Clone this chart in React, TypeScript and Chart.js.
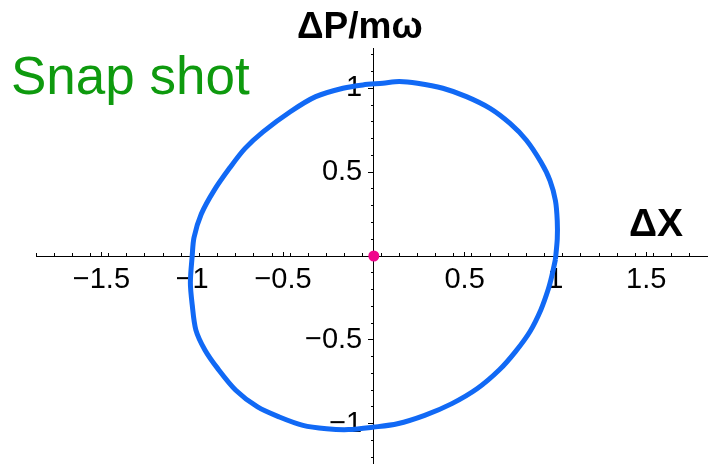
import React, { useEffect, useRef } from 'react';
import { Chart, registerables } from 'chart.js';

Chart.register(...registerables);

// Phase-space snapshot: position offset ΔX against scaled momentum offset ΔP/mω
const trajX = [
  1.0, 1.01, 1.01, 1.0, 0.97, 0.92, 0.84, 0.75, 0.64, 0.51, 0.38, 0.24, 0.14, 0.05,
  -0.06, -0.17, -0.32, -0.46, -0.61, -0.71, -0.79, -0.88, -0.95, -0.99, -1.0, -1.01,
  -1.0, -0.98, -0.93, -0.86, -0.76, -0.64, -0.52, -0.39, -0.26, -0.14, 0.0, 0.13,
  0.28, 0.43, 0.57, 0.69, 0.78, 0.86, 0.92, 0.96, 0.98, 1.0,
];
const trajP = [
  -0.02, 0.1, 0.21, 0.33, 0.45, 0.56, 0.69, 0.79, 0.88, 0.95, 1.0, 1.03, 1.04, 1.03,
  1.02, 1.0, 0.95, 0.86, 0.74, 0.64, 0.53, 0.39, 0.25, 0.11, 0.0, -0.16,
  -0.29, -0.44, -0.56, -0.67, -0.8, -0.9, -0.96, -1.01, -1.03, -1.035, -1.02, -1.0,
  -0.95, -0.88, -0.79, -0.68, -0.57, -0.45, -0.32, -0.2, -0.12, -0.02,
];

// Centre of the distribution
const centreX = [0];
const centreP = [0];

const xMajorTicks = [-1.5, -1, -0.5, 0.5, 1, 1.5];
const xTickLabels = ['\u22121.5', '\u22121', '\u22120.5', '0.5', '1', '1.5'];
const yMajorTicks = [-1, -0.5, 0.5, 1];
const yTickLabels = ['\u22121', '\u22120.5', '0.5', '1'];

const X_MIN = -1.86;
const X_MAX = 1.84;
const Y_MIN = -1.24;
const Y_MAX = 1.24;

const FONT = '"Liberation Sans", Arial, sans-serif';
// gap between the vertical axis and its labels
const Y_LABEL_GAP = '\u2009\u2009';

const axisLabels = {
  id: 'axisLabels',
  afterDraw(chart: Chart) {
    const ctx = chart.ctx;
    ctx.save();
    ctx.textBaseline = 'alphabetic';
    ctx.textAlign = 'left';

    ctx.fillStyle = '#0e9a0e';
    ctx.font = `53px ${FONT}`;
    ctx.fillText('Snap shot', 11, 94);

    ctx.fillStyle = '#000';
    ctx.font = `bold 37px ${FONT}`;
    ctx.fillText('\u0394P/m\u03c9', 297, 38);

    ctx.font = `bold 39px ${FONT}`;
    ctx.fillText('\u0394X', 629, 236);
    ctx.restore();
  },
};

const tickFont = { family: FONT, size: 29 };

const noPadding = (s: any) => {
  s.paddingLeft = 0;
  s.paddingRight = 0;
  s.paddingTop = 0;
  s.paddingBottom = 0;
};

export default function App() {
  const canvasRef = useRef<HTMLCanvasElement | null>(null);

  useEffect(() => {
    const canvas = canvasRef.current;
    if (!canvas) return;
    const trajectory = trajX.map((x, i) => ({ x, y: trajP[i] }));
    const centre = centreX.map((x, i) => ({ x, y: centreP[i] }));

    const chart = new Chart(canvas, {
      type: 'scatter',
      data: {
        datasets: [
          {
            data: centre,
            pointRadius: 5.5,
            pointBackgroundColor: '#f0058c',
            pointBorderWidth: 0,
            order: 0,
          },
          {
            data: trajectory,
            showLine: true,
            borderColor: '#1169f5',
            borderWidth: 5,
            pointRadius: 0,
            tension: 0.3,
            order: 1,
          },
        ],
      },
      options: {
        animation: false,
        responsive: true,
        maintainAspectRatio: false,
        layout: { autoPadding: false, padding: { left: 36, top: 48, right: 0, bottom: 0 } },
        plugins: { legend: { display: false }, tooltip: { enabled: false } },
        scales: {
          x: {
            type: 'linear',
            position: { y: 0 },
            min: X_MIN,
            max: X_MAX,
            afterBuildTicks: (s: any) => {
              s.ticks = xMajorTicks.map((value) => ({ value }));
            },
            afterFit: noPadding,
            ticks: {
              callback: (v: any) => xTickLabels[xMajorTicks.indexOf(Number(v))] ?? '',
              font: tickFont,
              color: '#000',
              padding: 12,
              maxRotation: 0,
              autoSkip: false,
            },
            grid: { drawOnChartArea: false, drawTicks: true, tickLength: -5, tickColor: '#000', tickWidth: 1 },
            border: { display: true, color: '#000', width: 1 },
          },
          xMinor: {
            type: 'linear',
            axis: 'x',
            position: { y: 0 },
            min: X_MIN,
            max: X_MAX,
            afterFit: noPadding,
            ticks: { stepSize: 0.1, display: false, includeBounds: false },
            grid: { drawOnChartArea: false, drawTicks: true, tickLength: -3, tickColor: '#000', tickWidth: 1 },
            border: { display: false },
          },
          y: {
            type: 'linear',
            position: { x: 0 },
            min: Y_MIN,
            max: Y_MAX,
            afterBuildTicks: (s: any) => {
              s.ticks = yMajorTicks.map((value) => ({ value }));
            },
            afterFit: noPadding,
            ticks: {
              callback: (v: any) => {
                const label = yTickLabels[yMajorTicks.indexOf(Number(v))];
                return label ? label + Y_LABEL_GAP : '';
              },
              font: tickFont,
              color: '#000',
              padding: 0,
              autoSkip: false,
            },
            grid: { drawOnChartArea: false, drawTicks: true, tickLength: 5, tickColor: '#000', tickWidth: 1 },
            border: { display: true, color: '#000', width: 1 },
          },
          yMinor: {
            type: 'linear',
            axis: 'y',
            position: { x: 0 },
            min: Y_MIN,
            max: Y_MAX,
            afterFit: noPadding,
            ticks: { stepSize: 0.1, display: false, includeBounds: false },
            grid: { drawOnChartArea: false, drawTicks: true, tickLength: 3, tickColor: '#000', tickWidth: 1 },
            border: { display: false },
          },
        },
      },
      plugins: [axisLabels],
    });
    return () => chart.destroy();
  }, []);

  return (
    <div style={{ position: 'fixed', left: 0, top: 0, width: 708, height: 464, background: '#fff' }}>
      <canvas ref={canvasRef} />
    </div>
  );
}
